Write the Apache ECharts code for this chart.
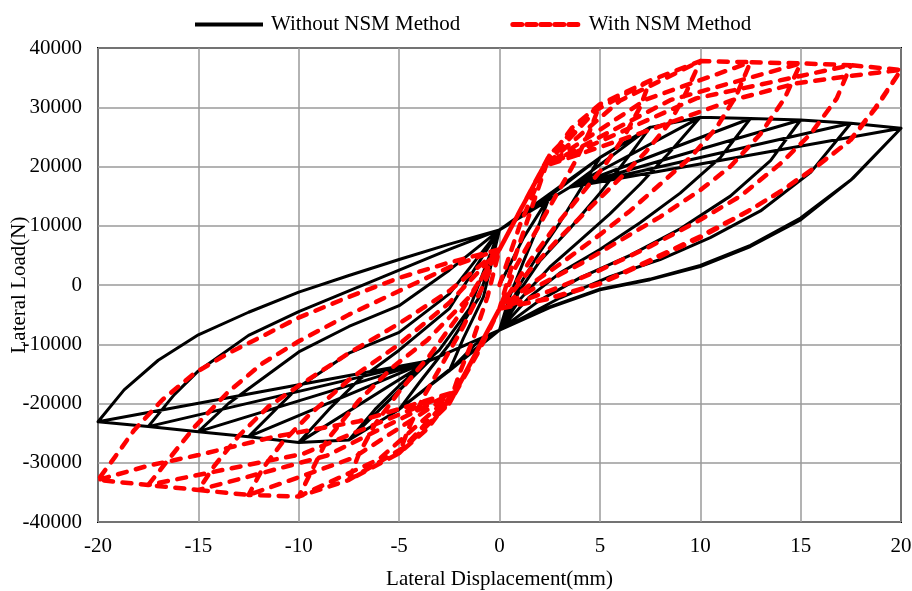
<!DOCTYPE html>
<html>
<head>
<meta charset="utf-8">
<script src="https://cdn.jsdelivr.net/npm/echarts@6/dist/echarts.min.js"></script>
<style>
  html, body { margin: 0; padding: 0; background: #fff; }
  #chart { width: 912px; height: 591px; }
</style>
</head>
<body>
<div id="chart"></div>
<script>
// hysteresis paths: [displacement mm, load N], in test order
var seriesNames = ["Without NSM Method", "With NSM Method"];

var withoutNSM = [
  // 2.5 mm
  [0, 0], [1.2, 8000], [2.5, 15000],
  [2, 10500], [1.2, 4000], [0.5, -2000], [0, -7600],
  [-1.2, -10000], [-2.5, -14500],
  [-1.8, -9000], [-0.8, -2000], [0, 9300],
  // 5 mm
  [2.5, 15000], [5, 21500],
  [4, 16000], [3, 10500], [2, 5500], [1, 0], [0, -7600],
  [-2.5, -14500], [-5, -21000],
  [-4, -16500], [-2.5, -10000], [-1, -2000], [0, 9300],
  // 7.5 mm
  [5, 21500], [7.5, 26600],
  [6.5, 22000], [5, 15500], [3.5, 9500], [2, 4000], [1, -1000], [0, -7600],
  [-5, -21000], [-7.5, -26150],
  [-6.2, -21000], [-5, -17000], [-3, -11000], [-1.5, -4000], [0, 9300],
  // 10 mm
  [3.5, 16500], [7.5, 26600], [10, 28300],
  [8.5, 22500], [7, 17000], [5.5, 12000], [4, 7500], [2.5, 3000], [1, -2500], [0, -7600],
  [-3.5, -12800], [-7.5, -26150], [-10, -26600],
  [-8.5, -21000], [-7, -16000], [-5, -11000], [-2.5, -4000], [0, 9300],
  // 12.5 mm
  [3.5, 16500], [10, 28300], [12.5, 28100],
  [11, 21500], [9, 15500], [7, 10500], [5, 6000], [3, 2000], [1.5, -2000], [0, -7600],
  [-3.5, -12800], [-10, -26600], [-12.5, -25600],
  [-11, -20500], [-10, -17200], [-7.5, -11500], [-5, -8000], [-2.5, -1500], [0, 9300],
  // 15 mm
  [3.5, 16500], [12.5, 28100], [15, 27850],
  [13.5, 21000], [11.5, 15000], [9, 9500], [6.5, 5000], [4, 1200], [2, -2600], [0, -7600],
  [-3.5, -12800], [-12.5, -25600], [-15, -24750],
  [-13.5, -20000], [-12.5, -17500], [-10, -11300], [-7.5, -7000], [-5, -3500], [-2.5, 2500], [0, 9300],
  // 17.5 mm
  [3.5, 16500], [15, 27850], [17.5, 27300],
  [15.5, 19000], [13, 12500], [10.5, 8000], [8, 4300], [5.5, 1400], [3, -2200], [0, -7600],
  [-3.5, -12800], [-15, -24750], [-17.5, -23900],
  [-16.2, -18500], [-15, -14500], [-12.5, -8500], [-10, -4500], [-7.5, -1000], [-5, 2500], [-2.5, 6000], [0, 9300],
  // 20 mm
  [3.5, 16500], [17.5, 27300], [20, 26450],
  [17.5, 17700], [15, 11000], [12.5, 6500], [10, 3100], [7.5, 900], [5, -800], [2.5, -3800], [0, -7600],
  [-3.5, -12800], [-17.5, -23900], [-20, -23070],
  [-18.7, -17700], [-17, -12700], [-15, -8400], [-12.5, -4600], [-10, -1200], [-7.5, 1600], [-5, 4300], [-2.5, 6900], [0, 9300],
  // 20 mm, repeat
  [3.5, 16500], [20, 26450],
  [17.6, 18000], [15, 11300], [12.5, 6700], [10, 3300], [7.5, 1000], [5, -700], [2.5, -3700], [0, -7600],
  [-3.5, -12800], [-20, -23070]
];

var withNSM = [
  // 2.5 mm
  [0, 0], [1, 10000], [2.5, 22000],
  [2, 17000], [1.3, 10000], [0.6, 3000], [0, -4000],
  [-1, -11000], [-2.5, -20000],
  [-2, -15000], [-1.3, -9000], [-0.6, -2000], [0, 6000],
  // 5 mm
  [2.5, 22000], [5, 30500],
  [4.5, 26000], [3.8, 21000], [2.8, 15000], [1.8, 9000], [0.8, 3000], [0, -4000],
  [-2.5, -20000], [-5, -28400],
  [-4.5, -24000], [-3.8, -19000], [-2.8, -13000], [-1.8, -7000], [-0.8, 0], [0, 6000],
  // 7.5 mm
  [2.2, 20000], [3.6, 26500], [5, 30500], [7.5, 34500],
  [7, 30000], [6.2, 25000], [5.2, 20000], [4, 15000], [2.8, 10000], [1.5, 4000], [0, -4000],
  [-2.2, -18000], [-3.6, -24300], [-5, -28400], [-7.5, -32900],
  [-7, -28500], [-6.2, -23500], [-5, -18000], [-3.5, -12000], [-2, -5000], [0, 6000],
  // 10 mm
  [2.2, 20000], [4.8, 29500], [7.5, 34500], [10, 37800],
  [9.3, 32500], [8.5, 27500], [7.3, 22500], [6, 18000], [4.5, 13000], [3, 8000], [1.5, 2500], [0, -4000],
  [-2.2, -18000], [-4.8, -27500], [-7.5, -32900], [-10, -35700],
  [-9.3, -31000], [-8.6, -26200], [-7, -19500], [-5.3, -13800], [-3.6, -9300], [-1.5, -2000], [0, 6000],
  // 12.5 mm
  [2.2, 20000], [6, 31100], [10, 37800], [12.5, 37600],
  [11.8, 32000], [10.8, 26500], [9.5, 21500], [8, 17000], [6.5, 12500], [5, 8500], [3, 3500], [1.5, 0], [0, -4000],
  [-2.2, -18000], [-6, -29400], [-10, -35700], [-12.5, -35440],
  [-11.8, -31000], [-10.8, -26500], [-9.5, -22000], [-7.5, -16000], [-5, -10000], [-2.5, -3000], [0, 6000],
  // 15 mm
  [2.2, 20000], [7.3, 31300], [12.5, 37600], [15, 37400],
  [14.2, 31500], [13, 25500], [11.5, 20000], [10, 16000], [8, 11500], [6, 7500], [4, 3500], [2, 0], [0, -4000],
  [-2.2, -18000], [-7.3, -29200], [-12.5, -35440], [-15, -34600],
  [-14.2, -30500], [-13, -25500], [-11.5, -20500], [-10, -17000], [-7.5, -11500], [-5, -6500], [-2.5, -1000], [0, 6000],
  // 17.5 mm
  [2.2, 20000], [8.5, 31200], [15, 37400], [17.5, 37100],
  [16.8, 31500], [15.5, 25500], [14, 20500], [12, 15000], [10, 11000], [7.5, 6500], [5, 2500], [2.5, -1000], [0, -4000],
  [-2.2, -18000], [-8.6, -28800], [-15, -34600], [-17.5, -33760],
  [-16.5, -29500], [-15.2, -24000], [-13.5, -18000], [-11.8, -13200], [-10, -9500], [-7.5, -5000], [-5, -1000], [-2.5, 3000], [0, 6000],
  // 20 mm
  [2.2, 20000], [9.8, 31500], [17.5, 37100], [20, 36300],
  [18.8, 30100], [17.5, 24500], [15.8, 20000], [14.1, 16000], [12.5, 12700], [10, 8200], [7.5, 4200], [5, 300], [2.5, -2200], [0, -4000],
  [-2.2, -18000], [-9.8, -28500], [-17.5, -33760], [-20, -32900],
  [-19.15, -29000], [-18.2, -24500], [-16.8, -19400], [-15.2, -14900], [-13.5, -11500], [-11.85, -8700], [-10, -5500], [-7.5, -2000], [-5, 1200], [-2.5, 3800], [0, 6000],
  // 20 mm, repeat
  [2.2, 20000], [7.5, 26200], [11.6, 31200], [14.8, 34050], [17.5, 35300], [20, 36300],
  [18.7, 29800], [17.4, 24200], [15.7, 19800], [14, 15800], [12.4, 12500], [10, 8000], [7.5, 4000], [5, 200], [2.5, -2300], [0, -4000],
  [-2.2, -18000], [-7, -23000], [-11.2, -25600], [-15, -28700], [-17.5, -30500], [-20, -32900]
];

var serifFont = '"Liberation Serif", "Times New Roman", serif';

var chart = echarts.init(document.getElementById("chart"), null, { renderer: "canvas" });
chart.setOption({
  animation: false,
  backgroundColor: "#fff",
  legend: {
    top: 9,
    left: 188,
    itemWidth: 68,
    itemHeight: 14,
    itemGap: 50,
    itemStyle: { opacity: 0 },
    textStyle: { fontFamily: serifFont, fontSize: 21, color: "#000", padding: [0, 0, 0, 3] },
    data: [
      { name: seriesNames[0], lineStyle: { width: 4 } },
      { name: seriesNames[1], lineStyle: { width: 5, type: [9, 5] } }
    ]
  },
  grid: {
    left: 98,
    right: 11,
    top: 48,
    bottom: 69,
    containLabel: false,
    outerBoundsMode: "none",
    show: true,
    borderColor: "#000",
    borderWidth: 2,
    backgroundColor: "transparent"
  },
  xAxis: {
    type: "value",
    min: -20,
    max: 20,
    interval: 5,
    name: "Lateral Displacement(mm)",
    nameLocation: "middle",
    nameGap: 47,
    nameTextStyle: { fontFamily: serifFont, fontSize: 21, color: "#000" },
    axisLine: { show: false },
    axisTick: { show: false },
    axisLabel: {
      margin: 14,
      fontFamily: serifFont,
      fontSize: 21,
      color: "#000",
      formatter: function (v) { return String(v); }
    },
    splitLine: { show: true, lineStyle: { color: "#9a9a9a", width: 1.5 } }
  },
  yAxis: {
    type: "value",
    min: -40000,
    max: 40000,
    interval: 10000,
    name: "Lateral Load(N)",
    nameLocation: "middle",
    nameGap: 68,
    nameMoveOverlap: false,
    nameTextStyle: { fontFamily: serifFont, fontSize: 21, color: "#000" },
    axisLine: { show: false },
    axisTick: { show: false },
    axisLabel: {
      margin: 16,
      fontFamily: serifFont,
      fontSize: 21,
      color: "#000",
      formatter: function (v) { return String(v); }
    },
    splitLine: { show: true, lineStyle: { color: "#9a9a9a", width: 1.5 } }
  },
  series: [
    {
      name: seriesNames[0],
      type: "line",
      data: withoutNSM,
      symbol: "none",
      showSymbol: false,
      lineStyle: { color: "#000", width: 3, join: "round" },
      itemStyle: { color: "#000" },
      z: 2
    },
    {
      name: seriesNames[1],
      type: "line",
      data: withNSM,
      symbol: "none",
      showSymbol: false,
      lineStyle: { color: "#ff0000", width: 4.5, type: [9, 9.5], cap: "round", join: "round" },
      itemStyle: { color: "#ff0000" },
      z: 3
    }
  ]
});
</script>
</body>
</html>
